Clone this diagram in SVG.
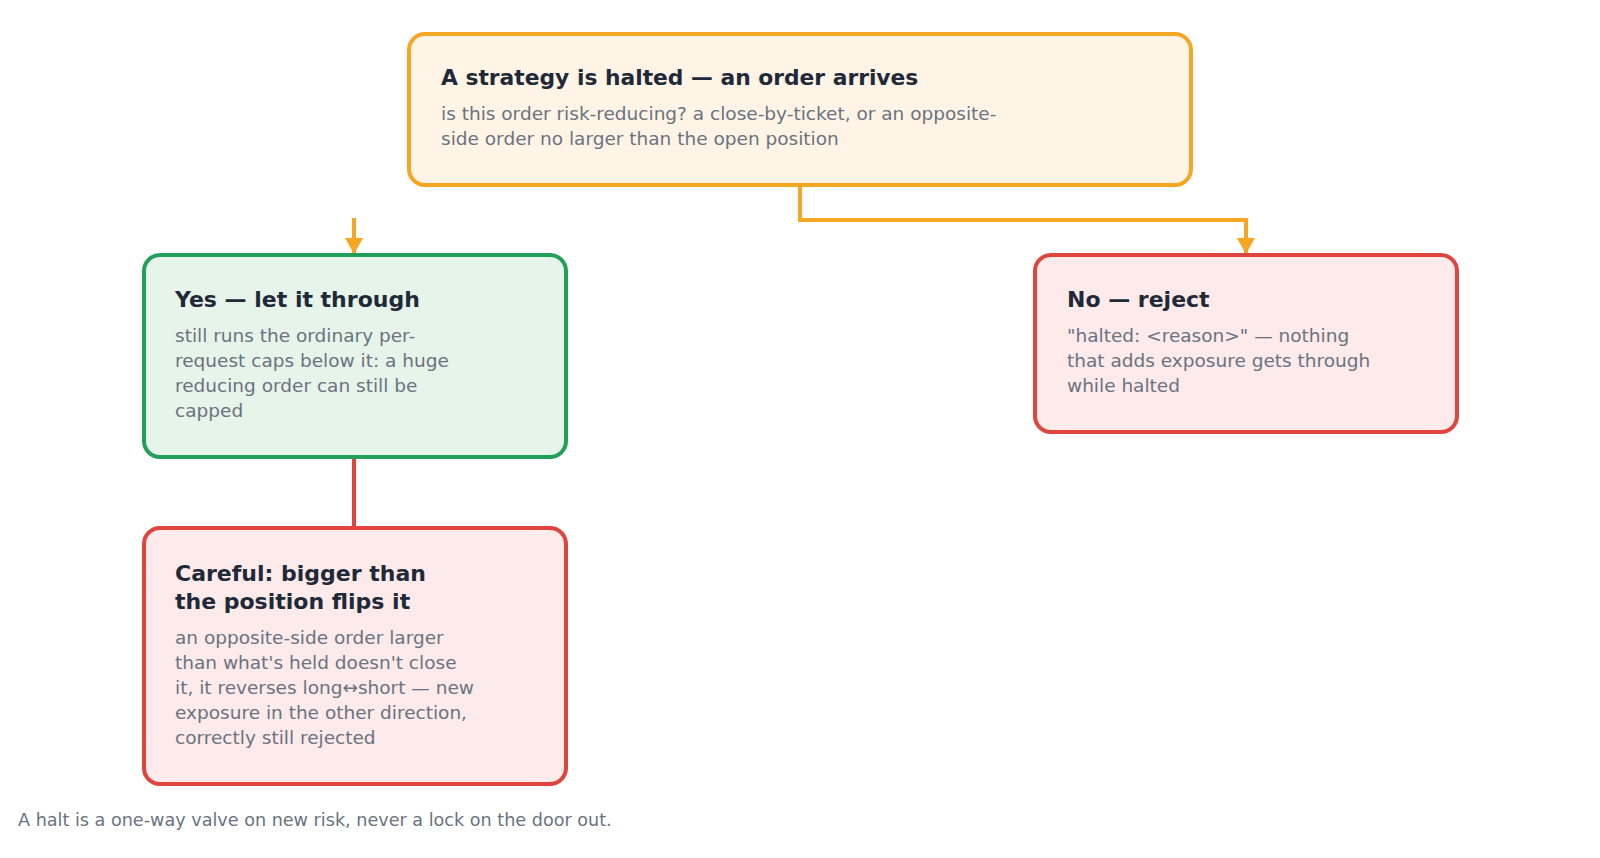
<svg xmlns="http://www.w3.org/2000/svg" width="1600" height="858" viewBox="0 0 1600 858">
<style>
.box{stroke-width:4}
.orange{fill:#fff4e6;stroke:#f5a623}
.green{fill:#e6f4ea;stroke:#22a05a}
.red{fill:#fdeaea;stroke:#e0443e}
.t{font-family:"DejaVu Sans",sans-serif;font-weight:bold;font-size:22px;fill:#1f2937}
.b{font-family:"DejaVu Sans",sans-serif;font-size:18.5px;fill:#6b7280}
.f{font-family:"DejaVu Sans",sans-serif;font-size:17.6px;fill:#6b7280}
.c{fill:none;stroke-width:4}
</style>
<defs>
<marker id="arr" markerWidth="16" markerHeight="18" refX="15" refY="9" orient="auto" markerUnits="userSpaceOnUse">
<path d="M0,0 L16,9 L0,18 z" fill="#f5a623"/>
</marker>
</defs>
<rect width="1600" height="858" fill="#ffffff"/>
<g id="connectors">
<path class="c" d="M800,185 V220 H1246 V253" stroke="#f5a623" marker-end="url(#arr)"/>
<path class="c" d="M354,218 V253" stroke="#f5a623" marker-end="url(#arr)"/>
<path class="c" d="M354,457 V528" stroke="#e0443e"/>
</g>
<g id="start">
<rect class="box orange" x="409" y="34" width="782" height="151" rx="16"/>
<text class="t" x="441" y="85" style="font-size:21.8px">A strategy is halted — an order arrives</text>
<text class="b" x="441" y="119.5">is this order risk-reducing? a close-by-ticket, or an opposite-</text>
<text class="b" x="441" y="144.5">side order no larger than the open position</text>
</g>
<g id="yes">
<rect class="box green" x="144" y="255" width="422" height="202" rx="16"/>
<text class="t" x="175" y="307">Yes — let it through</text>
<text class="b" x="175" y="341.5">still runs the ordinary per-</text>
<text class="b" x="175" y="367">request caps below it: a huge</text>
<text class="b" x="175" y="392">reducing order can still be</text>
<text class="b" x="175" y="417">capped</text>
</g>
<g id="no">
<rect class="box red" x="1035" y="255" width="422" height="177" rx="16"/>
<text class="t" x="1067" y="307">No — reject</text>
<text class="b" x="1067" y="341.5">"halted: &lt;reason&gt;" — nothing</text>
<text class="b" x="1067" y="367">that adds exposure gets through</text>
<text class="b" x="1067" y="392">while halted</text>
</g>
<g id="careful">
<rect class="box red" x="144" y="528" width="422" height="256" rx="16"/>
<text class="t" x="175" y="580.5">Careful: bigger than</text>
<text class="t" x="175" y="609">the position flips it</text>
<text class="b" x="175" y="644">an opposite-side order larger</text>
<text class="b" x="175" y="669">than what's held doesn't close</text>
<text class="b" x="175" y="694">it, it reverses long↔short — new</text>
<text class="b" x="175" y="719">exposure in the other direction,</text>
<text class="b" x="175" y="744">correctly still rejected</text>
</g>
<text class="f" x="18" y="826">A halt is a one-way valve on new risk, never a lock on the door out.</text>
</svg>
